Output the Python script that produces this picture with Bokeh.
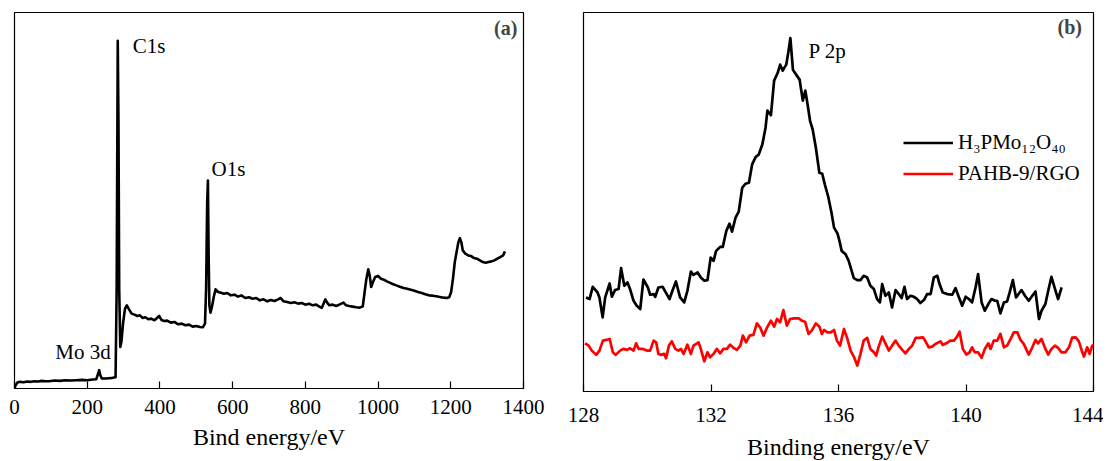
from bokeh.plotting import figure
from bokeh.layouts import row
from bokeh.models import Range1d, FixedTicker, Label, Legend, LegendItem
from bokeh.embed import file_html
from bokeh.resources import INLINE

FONT = "Liberation Serif"

# ---------------- (a) XPS survey spectrum ----------------
survey_ev = [0, 3, 8, 15, 25, 35, 45, 55, 65, 75, 85, 95, 110, 125, 140, 155, 170, 185, 200, 215,
             225, 230, 233, 236, 240, 250, 260, 270, 278, 281, 284, 286, 288, 291, 294, 299, 304,
             309, 315, 322, 330, 338, 345, 352, 360, 368, 376, 385, 392, 398, 404, 412, 420, 430,
             440, 450, 460, 470, 480, 490, 500, 510, 518, 524, 527, 530, 532, 534, 536, 539, 543,
             548, 553, 560, 568, 576, 585, 595, 605, 615, 624, 635, 645, 655, 665, 675, 685, 695,
             705, 715, 725, 732, 740, 750, 760, 770, 780, 790, 800, 810, 820, 830, 840, 845, 850,
             855, 860, 866, 875, 885, 895, 905, 912, 920, 930, 940, 950, 958, 963, 968, 973, 977,
             981, 986, 992, 1000, 1008, 1016, 1024, 1032, 1040, 1050, 1060, 1070, 1080, 1090, 1100,
             1110, 1120, 1130, 1140, 1150, 1160, 1170, 1180, 1190, 1196, 1201, 1206, 1211, 1216,
             1221, 1225, 1229, 1233, 1240, 1248, 1256, 1264, 1272, 1280, 1288, 1296, 1304, 1312,
             1320, 1328, 1336, 1344, 1349]
survey_int = [0, 10, 18, 20, 19, 21, 20, 22, 21, 23, 22, 22, 24, 23, 25, 24, 25, 26, 25, 27,
              28, 45, 55, 40, 30, 30, 31, 32, 34, 300, 1045, 800, 300, 125, 140, 200, 240,
              250, 238, 225, 222, 218, 220, 212, 214, 208, 210, 205, 212, 218, 206, 203, 204, 198,
              200, 193, 195, 190, 192, 186, 188, 185, 184, 195, 300, 560, 625, 400, 250, 228, 245,
              275, 298, 290, 288, 285, 287, 280, 282, 276, 280, 272, 274, 270, 272, 265, 268, 262,
              266, 263, 268, 272, 262, 260, 257, 259, 255, 257, 252, 255, 250, 252, 245, 242, 255,
              268, 258, 250, 252, 248, 253, 258, 250, 248, 246, 244, 243, 247, 290, 330, 358, 340,
              305, 320, 335, 338, 330, 327, 322, 318, 314, 310, 306, 302, 300, 297, 294,
              290, 287, 283, 280, 279, 277, 275, 273, 272, 275, 290, 330, 380, 410,
              440, 452, 440, 415, 405, 400, 398, 392, 390, 385, 380, 378, 380, 382,
              385, 390, 395, 400, 412]
survey_ticks = [0, 200, 400, 600, 800, 1000, 1200, 1400]

# ---------------- (b) P 2p high-resolution spectra ----------------
h3pmo_ev = [128.08, 128.19, 128.29, 128.44, 128.50, 128.60, 128.68, 128.82, 128.89, 128.99, 129.10,
            129.18, 129.28, 129.38, 129.46, 129.57, 129.67, 129.78, 129.88, 130.02, 130.09, 130.20,
            130.25, 130.35, 130.48, 130.58, 130.70, 130.77, 130.90, 131.03, 131.16, 131.26, 131.37,
            131.45, 131.58, 131.68, 131.79, 131.89, 131.99, 132.08, 132.16, 132.29, 132.37, 132.48,
            132.58, 132.66, 132.77, 132.87, 132.98, 133.08, 133.19, 133.29, 133.40, 133.50, 133.61,
            133.71, 133.77, 133.88, 133.98, 134.09, 134.17, 134.25, 134.36, 134.43, 134.49, 134.57,
            134.67, 134.78, 134.88, 134.96, 135.03, 135.11, 135.19, 135.29, 135.40, 135.49, 135.57,
            135.68, 135.78, 135.86, 135.97, 136.03, 136.10, 136.22, 136.32, 136.48, 136.59, 136.69,
            136.79, 136.90, 137.00, 137.11, 137.21, 137.30, 137.37, 137.47, 137.58, 137.68, 137.79,
            137.89, 137.98, 138.07, 138.15, 138.26, 138.36, 138.47, 138.57, 138.68, 138.78, 138.89,
            138.99, 139.10, 139.17, 139.27, 139.41, 139.57, 139.67, 139.78, 139.88, 139.99, 140.09,
            140.19, 140.30, 140.38, 140.49, 140.59, 140.70, 140.80, 140.91, 140.98, 141.08, 141.19,
            141.29, 141.37, 141.47, 141.57, 141.74, 141.85, 141.97, 142.08, 142.18, 142.29, 142.37,
            142.49, 142.58, 142.68, 142.81, 142.89, 143.00]
h3pmo_int = [94.3, 92.7, 105, 99.3, 94.3, 74.3, 94.3, 108.3, 95, 101.7, 102.7,
             123.7, 106, 109.3, 102.7, 91, 86, 82.7, 112.3, 104.3, 97, 97.7,
             95, 104.3, 105, 99.3, 92.7, 99.3, 110.3, 94.3, 89.3, 101, 120.3,
             117, 119.3, 114.3, 111, 111.7, 134.3, 131, 141, 145, 145, 161,
             168.3, 160.3, 174.3, 180.3, 204.3, 208.3, 209.3, 227.7, 235, 237.7, 247.7,
             264.3, 281.7, 277, 311.7, 319.3, 327.7, 321.7, 327.7, 341, 354.3, 322.7,
             317.7, 312.7, 291.7, 301.7, 287.7, 271, 262.7, 244.3, 219.3, 218.3, 207.7,
             195, 179.3, 164.3, 158.3, 151, 141, 137.7, 131, 113.7, 111.7, 111.7,
             116, 114.3, 106, 102.7, 92.7, 89.3, 107.7, 96, 99.3, 84.3, 101.7,
             97.7, 93.7, 105, 92.7, 96, 95, 92.7, 88.7, 91.7, 97.7, 97.7,
             114.3, 116, 107.7, 99.3, 97.7, 97, 103.7, 94.3, 86, 95, 92.7,
             89.3, 104.3, 117.7, 89.3, 81, 87.7, 92.7, 91, 91, 78.3, 89.3,
             90.3, 99.3, 111.7, 94.3, 101.7, 96, 91, 96, 100.3, 72.7, 81,
             87.7, 101, 115, 101, 92.7, 104.3]

pahb_ev = [128.05, 128.16, 128.26, 128.40, 128.50, 128.61, 128.71, 128.82, 128.92, 129.01, 129.15,
           129.25, 129.36, 129.46, 129.57, 129.65, 129.73, 129.86, 129.99, 130.09, 130.20, 130.28,
           130.35, 130.44, 130.53, 130.59, 130.68, 130.77, 130.88, 130.98, 131.06, 131.14, 131.26,
           131.37, 131.45, 131.61, 131.68, 131.79, 131.89, 131.97, 132.08, 132.18, 132.29, 132.39,
           132.50, 132.60, 132.71, 132.81, 132.92, 133.00, 133.10, 133.21, 133.33, 133.44, 133.54,
           133.65, 133.75, 133.88, 133.98, 134.07, 134.17, 134.27, 134.38, 134.48, 134.61, 134.75,
           134.85, 134.95, 135.06, 135.16, 135.29, 135.40, 135.48, 135.55, 135.65, 135.76, 135.86,
           135.95, 136.05, 136.17, 136.27, 136.38, 136.48, 136.59, 136.69, 136.79, 136.90, 137.00,
           137.11, 137.18, 137.27, 137.37, 137.48, 137.58, 137.68, 137.79, 137.89, 138.00, 138.10,
           138.21, 138.31, 138.42, 138.52, 138.65, 138.73, 138.83, 138.94, 139.04, 139.20, 139.27,
           139.38, 139.51, 139.62, 139.72, 139.80, 139.90, 140.01, 140.11, 140.19, 140.28, 140.38,
           140.49, 140.59, 140.70, 140.77, 140.87, 140.98, 141.08, 141.19, 141.29, 141.40, 141.50,
           141.61, 141.71, 141.81, 141.97, 142.08, 142.18, 142.26, 142.37, 142.47, 142.58, 142.68,
           142.79, 142.89, 143.00, 143.12, 143.23, 143.33, 143.44, 143.54, 143.65, 143.70, 143.80,
           143.88, 143.96, 144.03]
pahb_int = [48.3, 46, 41, 36.7, 41, 51, 51.7, 52.7, 39.3, 36.7, 41,
            42.7, 41.7, 43.3, 41, 48.3, 42.7, 42.7, 41, 41, 51, 49.3,
            37.7, 36.7, 37.7, 33.3, 46, 50.3, 42.7, 41, 42.7, 37.7, 47,
            37.7, 46, 49.3, 42.7, 30.3, 39.3, 34.3, 37.7, 42.7, 38.3, 42.7,
            42.7, 47, 43.7, 41.7, 46, 56, 49.3, 56, 56.7, 68.3, 64.3,
            56, 63.7, 71, 65, 72.7, 69.3, 81.7, 66, 72.7, 73.3, 73.3,
            71, 70, 57.7, 61, 68.3, 65, 57.7, 61.7, 59.3, 59.3, 61.7,
            51, 46, 62.7, 53.7, 41, 35, 26, 37.7, 51, 53.7, 42.7,
            39.3, 36, 46, 55, 47.7, 41, 46, 51, 46, 41.7, 38.3,
            42.7, 46, 53.7, 53.7, 54.3, 50.3, 44.3, 45, 47.7, 50.3, 46.7,
            48.3, 51, 51, 55, 60, 42.7, 37, 39.3, 44.3, 39.3, 39.3,
            33.7, 42.7, 48.3, 42.7, 51, 51, 57.7, 44.3, 46, 52.7, 59.3,
            59.3, 51.7, 47.7, 37, 44.3, 51.7, 48.3, 52.7, 44.3, 37, 42.7,
            46, 43.7, 39.3, 39.3, 44.3, 54, 54.3, 50.3, 39.3, 35, 44.3,
            37.7, 46, 47]
p2p_ticks = [128, 132, 136, 140, 144]

series_names = ["H\u2083PMo\u2081\u2082O\u2084\u2080", "PAHB-9/RGO"]
series_colors = ["#000000", "#ff0000"]


def style(p, ticks, tick_standoff, label_standoff):
    p.xaxis.ticker = FixedTicker(ticks=ticks)
    p.xaxis.major_tick_in = 7
    p.xaxis.major_tick_out = 0
    p.xaxis.minor_tick_line_color = None
    p.xaxis.axis_line_color = "black"
    p.xaxis.axis_line_width = 1.2
    p.xaxis.major_tick_line_width = 1.2
    p.xaxis.major_label_text_font = FONT
    p.xaxis.major_label_text_font_size = "21px"
    p.xaxis.major_label_text_color = "black"
    p.xaxis.major_label_standoff = tick_standoff
    p.xaxis.axis_label_text_font = FONT
    p.xaxis.axis_label_text_font_size = "24px"
    p.xaxis.axis_label_text_font_style = "normal"
    p.xaxis.axis_label_text_color = "black"
    p.xaxis.axis_label_standoff = label_standoff
    p.xgrid.visible = False
    p.ygrid.visible = False
    p.outline_line_color = "black"
    p.outline_line_width = 1.2
    p.background_fill_color = "white"
    p.border_fill_color = "white"


# ---- panel (a)
pa = figure(frame_width=509, frame_height=376, output_backend="svg", toolbar_location=None,
            x_range=Range1d(0, 1400), y_range=Range1d(0, 1130), y_axis_type=None,
            min_border_left=14, min_border_right=37, min_border_top=12, min_border_bottom=10)
pa.line(survey_ev, survey_int, line_color="black", line_width=2.6, line_join="round")
pa.xaxis.axis_label = "Bind energy/eV"
style(pa, survey_ticks, 11, 7)

for txt, x, y in [("C1s", 325, 1029), ("O1s", 542, 659), ("Mo 3d", 112, 109)]:
    pa.add_layout(Label(x=x, y=y, text=txt, text_font=FONT, text_font_size="21px",
                        text_color="black", text_baseline="alphabetic"))
pa.add_layout(Label(x=1383, y=1083, text="(a)", text_font=FONT, text_font_size="20px",
                    text_font_style="bold", text_align="right", text_baseline="alphabetic"))

# ---- panel (b)
pb = figure(frame_width=510, frame_height=379, output_backend="svg", toolbar_location=None,
            x_range=Range1d(128, 144), y_range=Range1d(0, 380), y_axis_type=None,
            min_border_left=23, min_border_right=10, min_border_top=12, min_border_bottom=10)
r1 = pb.line(h3pmo_ev, h3pmo_int, line_color=series_colors[0], line_width=2.7, line_join="round")
r2 = pb.line(pahb_ev, pahb_int, line_color=series_colors[1], line_width=2.7, line_join="round")
pb.xaxis.axis_label = "Binding energy/eV"
style(pb, p2p_ticks, 16, 9)

pb.add_layout(Label(x=135.06, y=341, text="P 2p", text_font=FONT, text_font_size="21px",
                    text_color="black", text_baseline="alphabetic"))
pb.add_layout(Label(x=143.64, y=365, text="(b)", text_font=FONT, text_font_size="20px",
                    text_font_style="bold", text_align="right", text_baseline="alphabetic"))

legend = Legend(items=[LegendItem(label=series_names[0], renderers=[r1]),
                       LegendItem(label=series_names[1], renderers=[r2])],
                location=(320, 205), padding=0, margin=0, spacing=6,
                glyph_width=50, glyph_height=21, label_height=21, label_standoff=5,
                label_text_font=FONT, label_text_font_size="21px", label_text_color="black",
                border_line_alpha=0, background_fill_alpha=0)
pb.add_layout(legend)

layout = row(pa, pb)
open("out.html", "w").write(file_html(layout, INLINE))
